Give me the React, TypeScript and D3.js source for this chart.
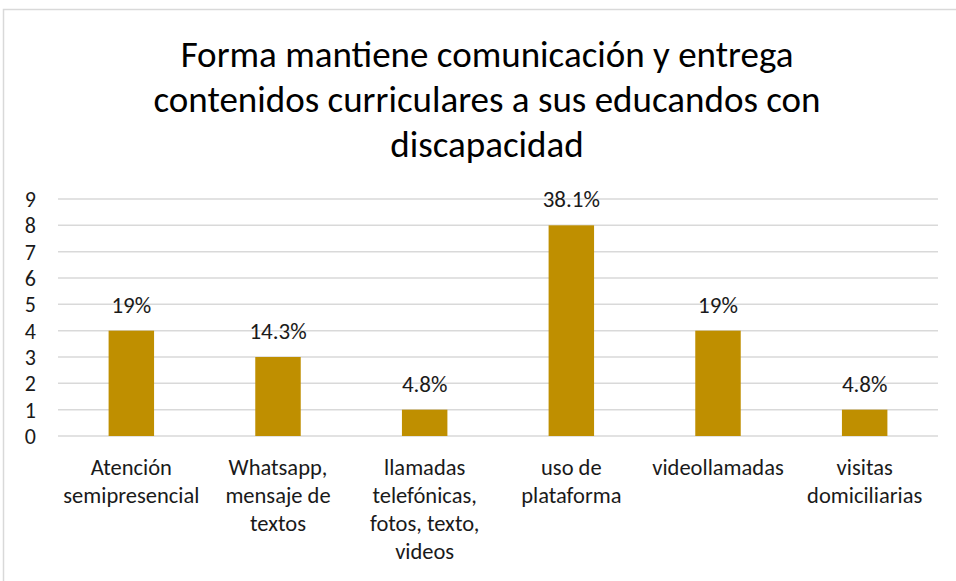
import { useEffect, useRef } from "react"
import * as d3 from "d3"

const categories = [
  ["Atención", "semipresencial"],
  ["Whatsapp,", "mensaje de", "textos"],
  ["llamadas", "telefónicas,", "fotos, texto,", "videos"],
  ["uso de", "plataforma"],
  ["videollamadas"],
  ["visitas", "domiciliarias"],
]
const values = [4, 3, 1, 8, 4, 1]
const percentLabels = ["19%", "14.3%", "4.8%", "38.1%", "19%", "4.8%"]
const yTicks = [0, 1, 2, 3, 4, 5, 6, 7, 8, 9]
const titleLines = [
  "Forma mantiene comunicación y entrega",
  "contenidos curriculares a sus educandos con",
  "discapacidad",
]

export default function App() {
  const svgRef = useRef<SVGSVGElement>(null)

  useEffect(() => {
    if (!svgRef.current) return
    const svg = d3.select(svgRef.current)
    svg.selectAll("*").remove()

    const font = "Carlito, 'Liberation Sans', 'Open Sans', sans-serif"
    const left = 58
    const right = 938
    const top = 199
    const bottom = 436

    // Chart border
    svg
      .append("rect")
      .attr("x", 3.5)
      .attr("y", 9.5)
      .attr("width", 960)
      .attr("height", 600)
      .attr("fill", "#fff")
      .attr("stroke", "#d9d9d9")
      .attr("stroke-width", 1.5)

    const x = d3
      .scaleBand()
      .domain(categories.map((_, i) => String(i)))
      .range([left, right])
      .paddingInner(0.69)
      .paddingOuter(0.345)

    const y = d3.scaleLinear().domain([0, 9]).range([bottom, top])

    // Title
    svg
      .append("g")
      .selectAll("text")
      .data(titleLines)
      .enter()
      .append("text")
      .attr("x", 487)
      .attr("y", (_, i) => 67 + i * 45)
      .attr("text-anchor", "middle")
      .style("font-family", font)
      .style("font-size", "37px")
      .attr("fill", "#000")
      .text((d) => d)

    // Gridlines
    svg
      .append("g")
      .selectAll("line")
      .data(yTicks)
      .enter()
      .append("line")
      .attr("x1", left)
      .attr("x2", right)
      .attr("y1", (d) => y(d))
      .attr("y2", (d) => y(d))
      .attr("stroke", "#d9d9d9")
      .attr("stroke-width", 1.5)

    // Y tick labels
    svg
      .append("g")
      .selectAll("text")
      .data(yTicks)
      .enter()
      .append("text")
      .attr("x", 36)
      .attr("y", (d) => y(d))
      .attr("dy", "0.36em")
      .attr("text-anchor", "end")
      .style("font-family", font)
      .style("font-size", "22px")
      .attr("fill", "#1a1a1a")
      .text((d) => d)

    // Bars
    svg
      .append("g")
      .selectAll("rect")
      .data(values)
      .enter()
      .append("rect")
      .attr("x", (_, i) => x(String(i)) || 0)
      .attr("y", (d) => y(d))
      .attr("width", x.bandwidth())
      .attr("height", (d) => bottom - y(d))
      .attr("fill", "#bf8f00")

    // Value labels
    svg
      .append("g")
      .selectAll("text")
      .data(values)
      .enter()
      .append("text")
      .attr("x", (_, i) => (x(String(i)) || 0) + x.bandwidth() / 2)
      .attr("y", (d) => y(d) - 18)
      .attr("text-anchor", "middle")
      .style("font-family", font)
      .style("font-size", "23px")
      .attr("fill", "#1a1a1a")
      .text((_, i) => percentLabels[i])

    // Category labels
    const cat = svg
      .append("g")
      .selectAll("text")
      .data(categories)
      .enter()
      .append("text")
      .attr("x", (_, i) => (x(String(i)) || 0) + x.bandwidth() / 2)
      .attr("y", 475)
      .attr("text-anchor", "middle")
      .style("font-family", font)
      .style("font-size", "22.5px")
      .attr("fill", "#1a1a1a")

    cat
      .selectAll("tspan")
      .data((d) => d)
      .enter()
      .append("tspan")
      .attr("x", function () {
        return (this as SVGTSpanElement).parentElement?.getAttribute("x") || 0
      })
      .attr("dy", (_, i) => (i === 0 ? 0 : 28))
      .text((d) => d)
  }, [])

  return (
    <svg
      ref={svgRef}
      width={956}
      height={581}
      style={{ position: "absolute", left: 0, top: 0, background: "#fff" }}
    ></svg>
  )
}
